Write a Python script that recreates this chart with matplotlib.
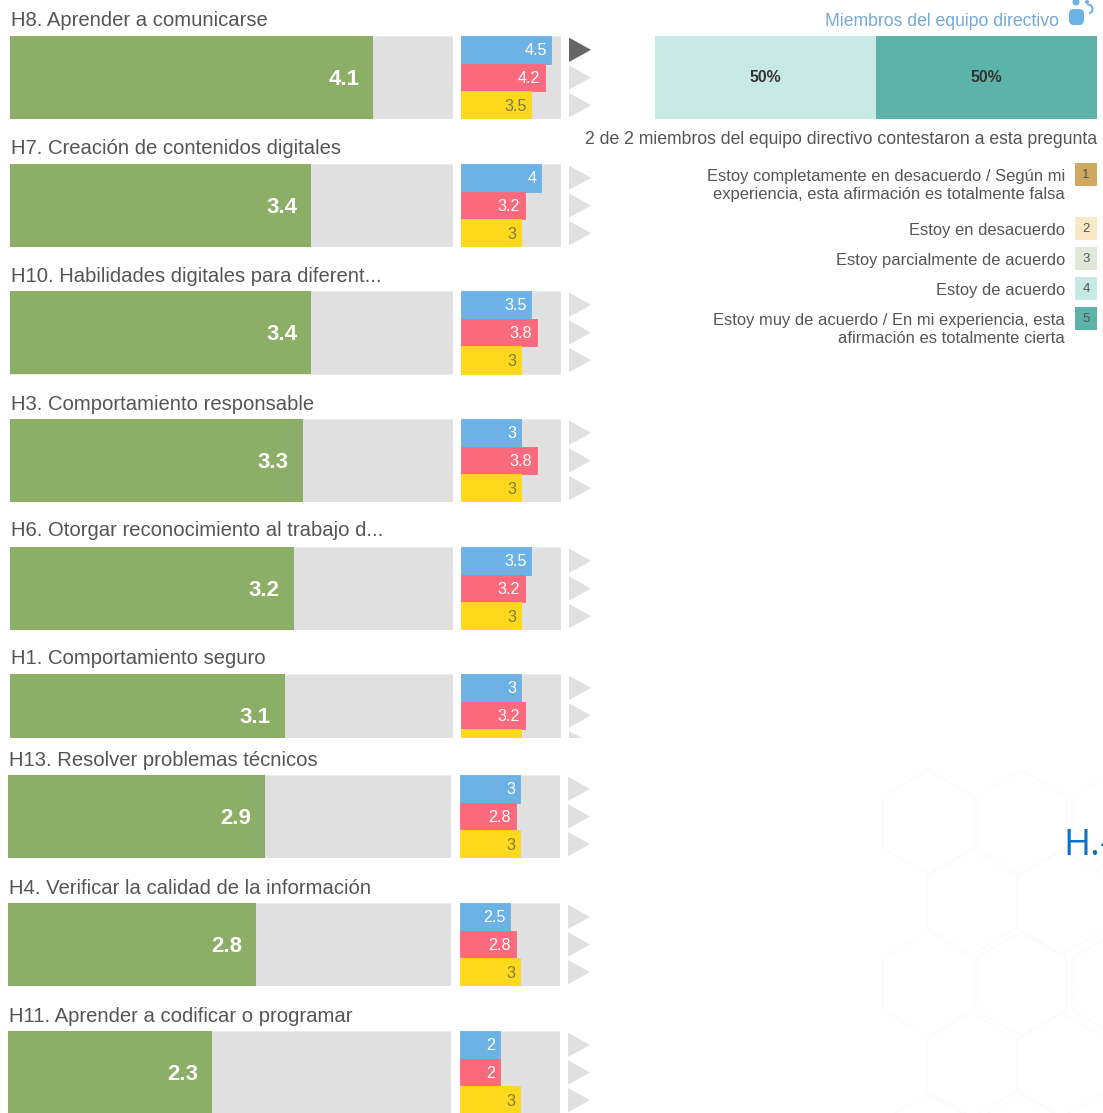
"""Digital skills self-assessment: ranking bars with a school-leaders detail panel."""

import matplotlib
matplotlib.use("Agg")
import matplotlib.pyplot as plt
from matplotlib.patches import Arc, Circle, FancyBboxPatch, Polygon

W, H = 1103, 1113

# ---- data ------------------------------------------------------------------
LABELS = ["H8. Aprender a comunicarse", "H7. Creación de contenidos digitales",
          "H10. Habilidades digitales para diferent...", "H3. Comportamiento responsable",
          "H6. Otorgar reconocimiento al trabajo d...", "H1. Comportamiento seguro",
          "H13. Resolver problemas técnicos", "H4. Verificar la calidad de la información",
          "H11. Aprender a codificar o programar"]
OVERALL = [4.1, 3.4, 3.4, 3.3, 3.2, 3.1, 2.9, 2.8, 2.3]
BLUE = [4.5, 4, 3.5, 3, 3.5, 3, 3, 2.5, 2]
RED = [4.2, 3.2, 3.8, 3.8, 3.2, 3.2, 2.8, 2.8, 2]
YELLOW = [3.5, 3, 3, 3, 3, 3, 3, 3, 3]

SHARES = [50, 50]
SHARE_LABELS = ["50%", "50%"]

LEGEND_LABELS = ["Estoy completamente en desacuerdo / Según mi\nexperiencia, esta afirmación es totalmente falsa",
                 "Estoy en desacuerdo", "Estoy parcialmente de acuerdo", "Estoy de acuerdo",
                 "Estoy muy de acuerdo / En mi experiencia, esta\nafirmación es totalmente cierta"]
LEGEND_KEYS = ["1", "2", "3", "4", "5"]
LEGEND_COLORS = ["#cfa961", "#f8e8c6", "#e0e8d8", "#c7e9e3", "#5bb3a9"]

# ---- layout (pixels, y down) -----------------------------------------------
ROW_TOPS = [36, 164, 291, 419, 547, 674, 775, 903, 1031]
ROW_HEIGHTS = [83, 83, 84, 83, 83, 64, 83, 83, 82]
TITLE_Y = [20, 148, 276, 404, 531, 659, 760, 888, 1016]
ROW_SHIFT = [0, 0, 0, 0, 0, 0, -2, -2, -2]       # lower rows sit a bit further left
FULL_ROW = 83.0
LEGEND_TOPS = [163, 217, 247, 277, 307]
HEX_CENTERS = [(928, 822), (1021, 822), (1117, 822), (972, 902), (1062, 902),
               (928, 984), (1021, 984), (1117, 984), (972, 1065), (1062, 1065),
               (928, 1146), (1021, 1146)]

GREEN, TRACK, EDGE = "#8cae66", "#e0e0e0", "#ebebeb"
SMALL_COLORS = ["#6cb2e4", "#fb697d", "#fdd81b"]
SMALL_TEXT = ["white", "white", "#7d7a4a"]
TEXT = "#555555"
FONT = "Liberation Sans"

plt.rcParams["font.family"] = [FONT, "DejaVu Sans"]


def add_axes(fig, left, top, width, height):
    ax = fig.add_axes([left / W, 1 - (top + height) / H, width / W, height / H])
    ax.set_axis_off()
    return ax


def draw_row(fig, i):
    top, height, dx = ROW_TOPS[i], ROW_HEIGHTS[i], ROW_SHIFT[i]
    visible = height / FULL_ROW

    # overall score, 0-5 scale
    ax = add_axes(fig, 10.4 + dx, top, 442.6, height)
    ax.set_xlim(0, 5)
    ax.set_ylim(visible, 0)
    ax.barh([0.5], [5], height=1, color=TRACK, edgecolor=EDGE, linewidth=1)
    ax.barh([0.5], [OVERALL[i]], height=1, color=GREEN, linewidth=0)
    ax.annotate(f"{OVERALL[i]:g}", (OVERALL[i], 0.5), xytext=(-10, 0.3),
                textcoords="offset points", ha="right", va="center_baseline",
                color="white", fontsize=16, fontweight="bold")

    # three groups, same scale
    ax = add_axes(fig, 460.5 + dx / 2, top, 100.5, height)
    ax.set_xlim(0, 5)
    ax.set_ylim(3 * visible, 0)
    ax.barh([1.5], [5], height=3, color=TRACK, edgecolor=EDGE, linewidth=1)
    for j, vals in enumerate((BLUE, RED, YELLOW)):
        v = vals[i]
        ax.barh([j + 0.5], [v], height=1, color=SMALL_COLORS[j], edgecolor=SMALL_COLORS[j],
                linewidth=0.6)
        ax.annotate(f"{v:g}", (v, j + 0.5), xytext=(-3.2, 0.3), textcoords="offset points",
                    ha="right", va="center_baseline", color=SMALL_TEXT[j], fontsize=11.6)

    # selection arrows
    ax = add_axes(fig, 569 + dx / 2, top, 22, height)
    ax.set_xlim(0, 1)
    ax.set_ylim(3 * visible, 0)
    for j in range(3):
        active = i == 0 and j == 0
        ax.add_patch(Polygon([(0, j + 0.06), (1, j + 0.5), (0, j + 0.94)],
                             color="#666666" if active else TRACK, linewidth=0))


def draw_background(bg):
    for cx, cy in HEX_CENTERS:
        pts = [(cx, cy - 52), (cx + 45, cy - 26), (cx + 45, cy + 26),
               (cx, cy + 52), (cx - 45, cy + 26), (cx - 45, cy - 26), (cx, cy - 52)]
        bg.plot(*zip(*pts), color="#fafafa", lw=0.9, ls=(0, (1.5, 0.6)), zorder=0)
    bg.text(1063, 855, "H.-", color="#0a72c4", fontsize=26.5, ha="left", va="baseline",
            family="Open Sans")


def draw_panel(fig, bg):
    bg.text(1059, 21, "Miembros del equipo directivo", color="#74a9d8", fontsize=12.7,
            ha="right", va="center")

    # person icon
    bg.add_patch(FancyBboxPatch((1073, 13), 7, 8, boxstyle="round,pad=4,rounding_size=5",
                                color="#6cb2e4", linewidth=0))
    bg.add_patch(Circle((1076, 2), 3.5, color="#6cb2e4", linewidth=0))
    bg.add_patch(Circle((1087, 2), 2, color="#6cb2e4", linewidth=0))
    bg.add_patch(Arc((1088, 9), 9, 9, theta1=-100, theta2=75, color="#6cb2e4", lw=1.5))

    ax = add_axes(fig, 655, 36, 442, 83)
    ax.set_xlim(0, sum(SHARES))
    ax.set_ylim(1, 0)
    left = 0
    for share, text, color in zip(SHARES, SHARE_LABELS, (LEGEND_COLORS[3], LEGEND_COLORS[4])):
        ax.barh([0.5], [share], left=left, height=1, color=color, linewidth=0)
        ax.text(left + share / 2, 0.5, text, ha="center", va="center", color="#333333",
                fontsize=11.4, fontweight="bold")
        left += share

    bg.text(1097, 139, "2 de 2 miembros del equipo directivo contestaron a esta pregunta",
            color=TEXT, fontsize=12.72, ha="right", va="center")

    for label, key, color, top in zip(LEGEND_LABELS, LEGEND_KEYS, LEGEND_COLORS, LEGEND_TOPS):
        bg.add_patch(plt.Rectangle((1075, top), 22, 23, color=color, linewidth=0))
        bg.text(1086, top + 12.5, key, ha="center", va="center", color=TEXT, fontsize=9.5)
        bg.text(1065, top + 5.5, label, ha="right", va="top", color=TEXT, fontsize=11.85,
                linespacing=1.33)


def main():
    fig = plt.figure(figsize=(W / 100, H / 100), dpi=100, facecolor="white")
    bg = fig.add_axes([0, 0, 1, 1])
    bg.set_xlim(0, W)
    bg.set_ylim(H, 0)
    bg.set_axis_off()

    draw_background(bg)
    for i, label in enumerate(LABELS):
        bg.text(11 + ROW_SHIFT[i], TITLE_Y[i], label, color=TEXT, fontsize=14.55,
                ha="left", va="center")
        draw_row(fig, i)
    draw_panel(fig, bg)

    fig.savefig("out.png", dpi=100)
    plt.close(fig)


if __name__ == "__main__":
    main()
